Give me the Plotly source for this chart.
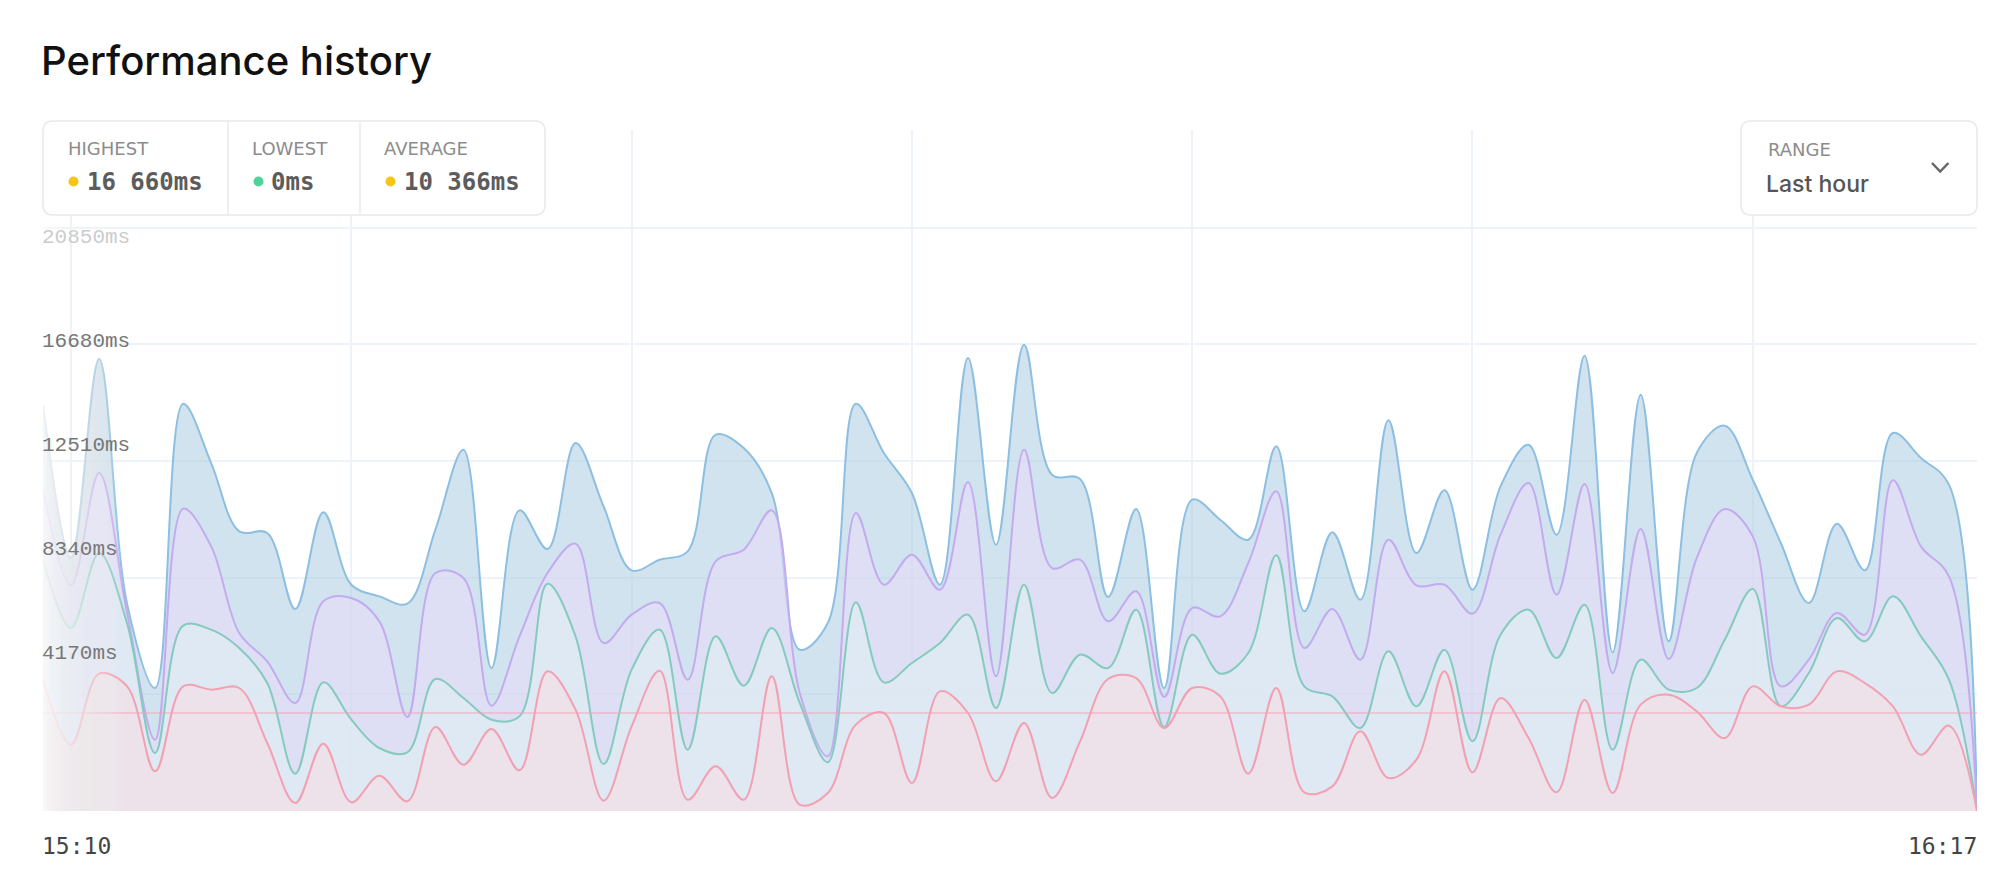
import plotly.graph_objects as go

# ---------------- data ----------------
TIME_LABELS = ["15:10", "16:17"]
SERIES_NAMES = ["p99", "p95", "p75", "p50"]

blue = [14500, 9040, 16150, 7400, 4395, 14554, 12434, 9992, 9933, 7217,
        10671, 8087, 7670, 7408, 10052, 12910, 5109, 10743, 9361, 13149,
        10886, 8599, 8980, 9278, 13446, 12970, 11362, 5764, 6717, 14554,
        12791, 11362, 8087, 16186, 9516, 16662, 12017, 11862, 7646, 10790,
        4395, 11124, 10409, 9695, 13030, 7134, 9957, 7551, 13959, 9218,
        11457, 7908, 11600, 13089, 9873, 16269, 5669, 14876, 6062, 12791,
        13768, 11838, 9576, 7432, 10266, 8599, 13506, 12613, 11660, 0]

purple = [11500, 8063, 12077, 7075, 2549, 10802, 9457, 6360, 5348, 3859,
          7491, 7610, 6777, 3359, 8504, 8325, 3764, 6241, 8504, 9552,
          6003, 7015, 7432, 4693, 8921, 9337, 10743, 4216, 1953, 10647,
          8087, 9159, 7908, 11755, 4812, 12910, 8682, 8980, 6777, 7849,
          4073, 7253, 6955, 8861, 11422, 5824, 7217, 5407, 9695, 8063,
          8087, 7051, 9873, 11719, 7730, 11684, 4931, 10076, 5431, 9040,
          10790, 9814, 4454, 5407, 7075, 6300, 11815, 9457, 8385, 0]

teal = [9000, 6539, 9218, 6700, 2072, 6622, 6479, 5824, 4573, 1334,
        4597, 3263, 2251, 2096, 4716, 4037, 3263, 3382, 8123, 6241,
        1679, 5050, 6479, 2191, 6241, 4478, 6539, 3859, 1739, 7456,
        4597, 5288, 6003, 7015, 3680, 8087, 4216, 5586, 5109, 7194,
        3001, 6300, 4907, 5645, 9135, 4454, 4097, 2966, 5705, 3740,
        5764, 2489, 6300, 7194, 5467, 7372, 2191, 5407, 4335, 4395,
        6122, 7932, 3740, 4931, 6896, 6062, 7670, 6241, 4693, 0]

pink = [4700, 2370, 4907, 4454, 1417, 4454, 4335, 4395, 2430, 286,
        2406, 310, 1262, 345, 3001, 1655, 2930, 1453, 4990, 3621,
        369, 3025, 5014, 405, 1596, 405, 4812, 226, 643, 3085,
        3502, 1000, 4276, 3502, 1060, 3144, 464, 2489, 4716, 4752,
        2966, 4395, 4097, 1334, 4395, 667, 881, 2846, 1179, 1834,
        4990, 1382, 4037, 2608, 667, 3978, 643, 3799, 4157, 3561,
        2608, 4454, 3740, 3799, 4990, 4573, 3740, 2013, 3049, 0]

Y_TICKS = [4170, 8340, 12510, 16680, 20850]
Y_TICK_LABELS = ["4170ms", "8340ms", "12510ms", "16680ms", "20850ms"]
THRESHOLD = 3500

STAT_LABELS = ["HIGHEST", "LOWEST", "AVERAGE"]
STAT_VALUES = ["16 660ms", "0ms", "10 366ms"]
STAT_DOTS = ["#f5c518", "#4fd39b", "#f5c518"]
RANGE_LABEL = "RANGE"
RANGE_VALUE = "Last hour"
TITLE = "Performance history"

# ---------------- geometry ----------------
W, H = 2016, 870
L, R, T, B = 43, 1977, 130, 811
YMAX = (B - T) * 4170 / 116.7


def px(xp):
    return (xp - L) / (R - L)


def py(yp):
    return (B - yp) / (B - T)


def rrect(x0, y0, x1, y1, r):
    pts = [
        ("M", [(x0 + r, y0)]), ("L", [(x1 - r, y0)]), ("Q", [(x1, y0), (x1, y0 + r)]),
        ("L", [(x1, y1 - r)]), ("Q", [(x1, y1), (x1 - r, y1)]),
        ("L", [(x0 + r, y1)]), ("Q", [(x0, y1), (x0, y1 - r)]),
        ("L", [(x0, y0 + r)]), ("Q", [(x0, y0), (x0 + r, y0)]),
    ]
    s = ""
    for cmd, ps in pts:
        s += cmd + " " + " ".join(f"{px(a):.6f},{py(b):.6f}" for a, b in ps) + " "
    return s + "Z"


x = list(range(len(blue)))

styles = [
    (blue, "#8dbfe2", "rgba(163,199,221,0.5)"),
    (purple, "#c3abef", "rgba(235,219,250,0.5)"),
    (teal, "#85cabf", "rgba(222,243,241,0.5)"),
    (pink, "#f2a0b2", "rgba(252,219,226,0.5)"),
]

fig = go.Figure()
for name, (vals, lc, fc) in zip(SERIES_NAMES, styles):
    fig.add_trace(go.Scatter(
        x=x, y=vals, name=name, mode="lines",
        line=dict(color=lc, width=2, shape="spline", smoothing=1),
        fill="tozeroy", fillcolor=fc, hoverinfo="skip", showlegend=False,
    ))

shapes = []
# threshold line
shapes.append(dict(type="line", xref="x domain", yref="y", x0=0, x1=1,
                   y0=THRESHOLD, y1=THRESHOLD,
                   line=dict(color="rgba(242,160,178,0.45)", width=2), layer="above"))

# left fade gradient (nested white strips)
N = 40
FADE_START, FADE_END = 43, 124
edges = [FADE_START + k * (FADE_END - FADE_START) / N for k in range(N + 1)]


def target(xm):
    t = (xm - FADE_START) / (FADE_END - FADE_START)
    return 0.96 * max(0.0, 1 - t) ** 0.8


Ts = [target((edges[k] + edges[k + 1]) / 2) for k in range(N)] + [0.0]
for j in range(N):
    a = 1 - (1 - Ts[j]) / (1 - Ts[j + 1])
    shapes.append(dict(type="rect", xref="paper", yref="paper",
                       x0=px(36), x1=px(edges[j + 1]), y0=py(B + 2), y1=py(T),
                       fillcolor=f"rgba(255,255,255,{a:.4f})", line=dict(width=0),
                       layer="above"))

# stats box
shapes.append(dict(type="path", xref="paper", yref="paper", path=rrect(43, 121, 545, 215, 10),
                   fillcolor="white", line=dict(color="#e9e9e9", width=1.5), layer="above"))
for dx in [228, 360]:
    shapes.append(dict(type="line", xref="paper", yref="paper", x0=px(dx), x1=px(dx),
                       y0=py(122), y1=py(214), line=dict(color="#ebebeb", width=1.5),
                       layer="above"))
# range box
shapes.append(dict(type="path", xref="paper", yref="paper", path=rrect(1741, 121, 1977, 215, 10),
                   fillcolor="white", line=dict(color="#e9e9e9", width=1.5), layer="above"))
chev = f"M {px(1932):.6f},{py(163):.6f} L {px(1940.2):.6f},{py(171.5):.6f} L {px(1948.4):.6f},{py(163):.6f}"
shapes.append(dict(type="path", xref="paper", yref="paper", path=chev,
                   line=dict(color="#666666", width=2.5), layer="above"))

annotations = []


def ann(text, xp, yp, size, color, family, xanchor="left", weight=None):
    f = dict(size=size, color=color, family=family)
    if weight:
        f["weight"] = weight
    annotations.append(dict(text=text, x=px(xp), y=py(yp), xref="paper", yref="paper",
                            xanchor=xanchor, yanchor="middle", showarrow=False, font=f))


ann(TITLE, 39, 60, 40, "#111111", "Inter", weight=500)

stat_x = [68, 252, 384]
dot_x = [73.5, 258.5, 390.5]
val_x = [85, 269, 402]
for lab, val, dc, sx, dxp, vx in zip(STAT_LABELS, STAT_VALUES, STAT_DOTS, stat_x, dot_x, val_x):
    ann(lab, sx - 2, 148, 18, "#8c8c8c", "DejaVu Sans")
    ann(val, vx, 182, 24, "#5c5c5c", "DejaVu Sans Mono", weight=700)
    r = 5
    shapes.append(dict(type="circle", xref="paper", yref="paper",
                       x0=px(dxp - r), x1=px(dxp + r), y0=py(181.5 + r), y1=py(181.5 - r),
                       fillcolor=dc, line=dict(width=0), layer="above"))

ann(RANGE_LABEL, 1766, 149, 18, "#8c8c8c", "DejaVu Sans")
ann(RANGE_VALUE, 1764, 184, 23, "#555555", "Inter", weight=500)

# y labels (evenly spaced block on the left)
LABEL_TOP, LABEL_STEP = 237, 104
for k, lab in enumerate(reversed(Y_TICK_LABELS)):
    col = "#cccccc" if k == 0 else "#777777"
    ann(lab, 40, LABEL_TOP + k * LABEL_STEP, 21, col, "Liberation Mono")

ann(TIME_LABELS[0], 40, 846, 23, "#444444", "DejaVu Sans Mono")
ann(TIME_LABELS[1], 1979, 846, 23, "#444444", "DejaVu Sans Mono", xanchor="right")

fig.update_layout(
    width=W, height=H,
    margin=dict(l=L, r=W - R, t=T, b=H - B, pad=0),
    paper_bgcolor="white", plot_bgcolor="white",
    xaxis=dict(range=[0, len(x) - 1], tickmode="linear", tick0=1, dtick=10,
               showgrid=True, gridcolor="#eef2f9", gridwidth=2,
               showticklabels=False, zeroline=False, showline=False, ticks=""),
    yaxis=dict(range=[0, YMAX], tickvals=[0] + Y_TICKS,
               showgrid=True, gridcolor="#eef2f9", gridwidth=2,
               showticklabels=False, zeroline=False, showline=False, ticks=""),
    shapes=shapes, annotations=annotations, showlegend=False,
)

fig.write_html("out.html", config={"displayModeBar": False},
               post_script="document.body.style.margin='0';document.body.style.overflow='hidden';")
